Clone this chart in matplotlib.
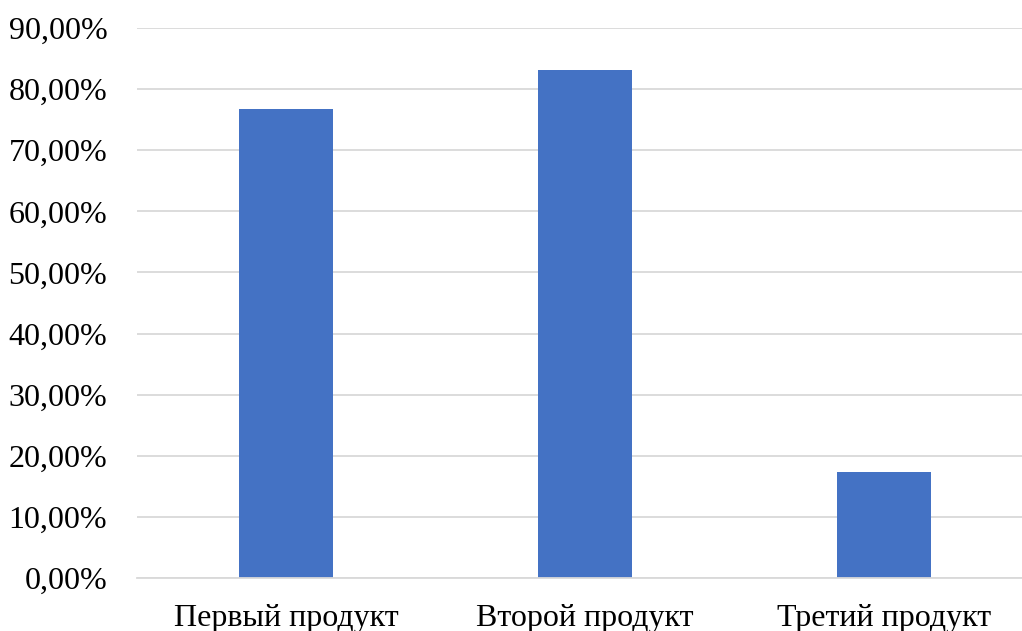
import matplotlib
matplotlib.use("Agg")
import matplotlib.pyplot as plt
from matplotlib.ticker import FuncFormatter, MultipleLocator

# Доли по продуктам
products = ["Первый продукт", "Второй продукт", "Третий продукт"]
shares = [0.768, 0.831, 0.173]

plt.rcParams["font.family"] = ["Liberation Serif", "DejaVu Serif"]

fig = plt.figure(figsize=(10.22, 6.31), dpi=100)
left = 136.5 / 1022
ax = fig.add_axes([left, 53 / 631, 1 - left, 550 / 631])

x = range(len(products))
ax.bar(x, shares, width=0.314, color="#4472C4", zorder=2)

ax.set_xlim(-0.5, (1022 - 136.5) / 299 - 0.5)
ax.set_ylim(0, 0.9)
ax.yaxis.set_major_locator(MultipleLocator(0.1))
ax.yaxis.set_major_formatter(
    FuncFormatter(lambda v, _: "{:.2f}%".format(v * 100).replace(".", ","))
)
ax.set_xticks(list(x))
ax.set_xticklabels(products)

ax.grid(axis="y", color="#D9D9D9", linewidth=1.3, zorder=0)
for side in ("top", "right", "left"):
    ax.spines[side].set_visible(False)
ax.spines["bottom"].set_color("#D9D9D9")
ax.spines["bottom"].set_linewidth(1.3)
ax.tick_params(axis="both", length=0, labelsize=23, colors="#000000")
ax.tick_params(axis="y", pad=21)
ax.tick_params(axis="x", pad=19)

fig.savefig("out.png", dpi=100)
